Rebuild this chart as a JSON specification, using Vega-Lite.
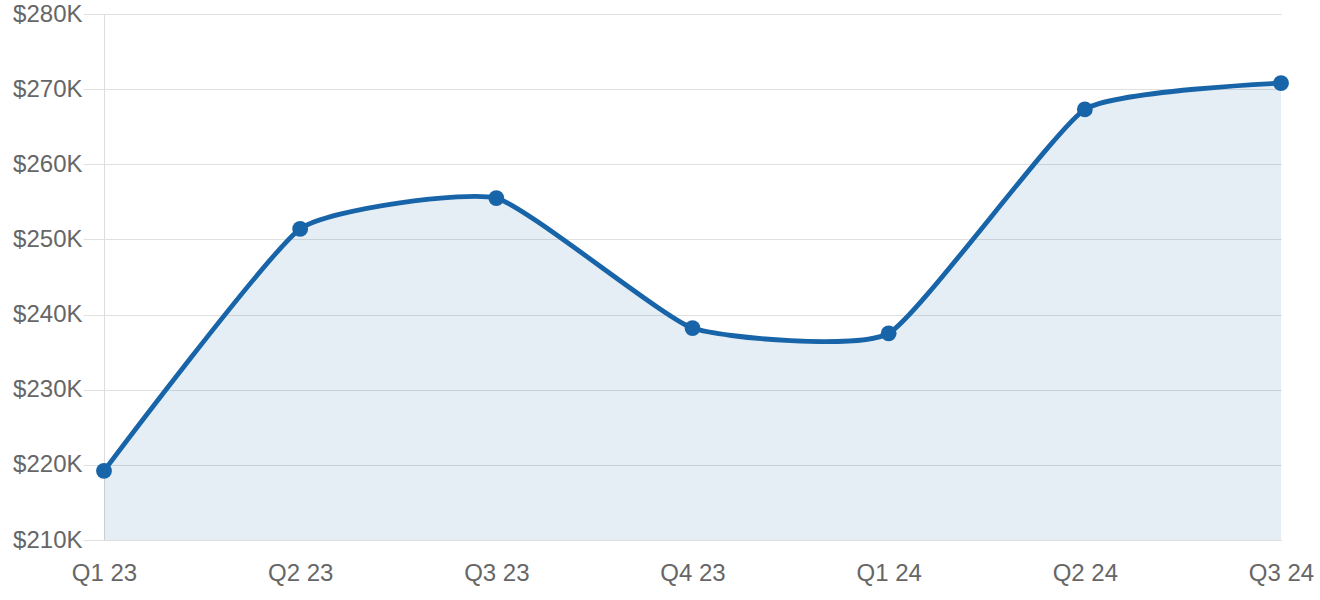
{
  "$schema": "https://vega.github.io/schema/vega-lite/v6.json",
  "width": 1177,
  "height": 526,
  "autosize": {"type": "none"},
  "padding": {"left": 104, "top": 14, "right": 39, "bottom": 60},
  "config": {"view": {"stroke": null}, "font": "Liberation Sans"},
  "data": {
    "values": [
      {"quarter": "Q1 23", "value": 219.2},
      {"quarter": "Q2 23", "value": 251.4},
      {"quarter": "Q3 23", "value": 255.5},
      {"quarter": "Q4 23", "value": 238.2},
      {"quarter": "Q1 24", "value": 237.5},
      {"quarter": "Q2 24", "value": 267.3},
      {"quarter": "Q3 24", "value": 270.8}
    ]
  },
  "encoding": {
    "x": {
      "field": "quarter",
      "type": "ordinal",
      "sort": null,
      "scale": {"type": "point", "padding": 0},
      "axis": {
        "title": null,
        "labelAngle": 0,
        "grid": false,
        "ticks": false,
        "domainColor": "#dddddd",
        "domainWidth": 1,
        "labelColor": "#666666",
        "labelFontSize": 24,
        "labelPadding": 21
      }
    },
    "y": {
      "field": "value",
      "type": "quantitative",
      "scale": {"domain": [210, 280], "nice": false, "zero": false},
      "axis": {
        "title": null,
        "values": [210, 220, 230, 240, 250, 260, 270, 280],
        "labelExpr": "'$' + datum.value + 'K'",
        "grid": true,
        "gridColor": "#e0e0e0",
        "gridWidth": 1.2,
        "tickSize": 21,
        "tickColor": "#e0e0e0",
        "domainColor": "#dddddd",
        "labelColor": "#666666",
        "labelFontSize": 24,
        "labelPadding": 1
      }
    }
  },
  "layer": [
    {
      "mark": {"type": "area", "interpolate": "cardinal", "tension": 0.55, "color": "#1764a8", "opacity": 0.11},
      "encoding": {"y2": {"datum": 210}}
    },
    {
      "mark": {"type": "line", "interpolate": "cardinal", "tension": 0.55, "color": "#1764a8", "strokeWidth": 4.8}
    },
    {
      "mark": {"type": "point", "filled": true, "color": "#1764a8", "size": 250, "opacity": 1}
    }
  ]
}
